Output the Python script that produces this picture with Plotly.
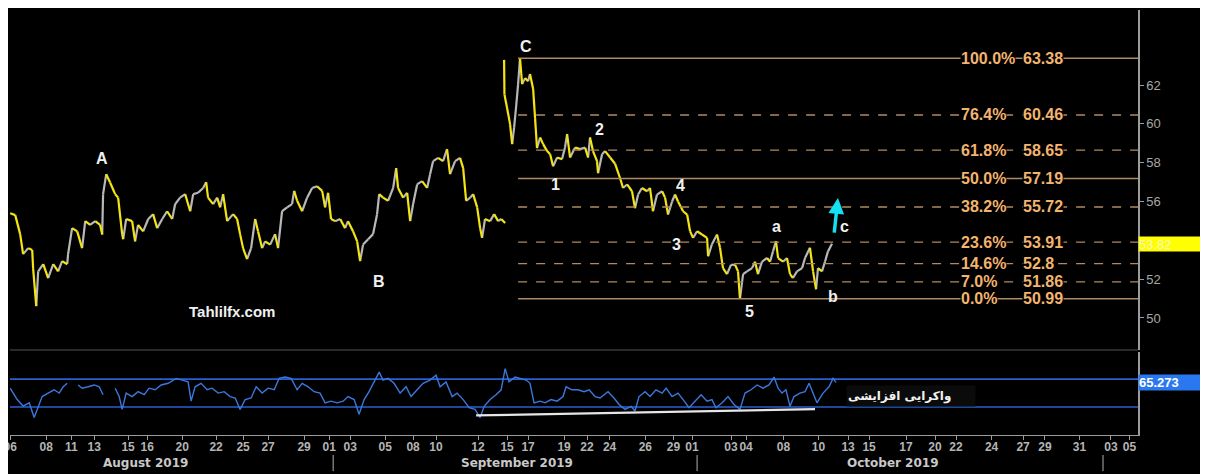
import plotly.graph_objects as go
from plotly.subplots import make_subplots

# ---------------- DATA ----------------
# x = trading sessions since 6 Aug 2019
seg1_x = [0.00, 0.29, 0.57, 0.74, 1.03, 1.26, 1.31, 1.49, 1.60, 1.89, 2.17, 2.46, 2.74, 2.97, 3.26, 3.31,
          3.54, 3.83, 4.11, 4.29, 4.57, 4.86, 5.14, 5.26, 5.31, 5.49, 5.71, 6.00, 6.17, 6.40, 6.46, 6.63,
          6.97, 7.14, 7.31, 7.60, 7.89, 8.17, 8.40, 8.69, 8.97, 9.26, 9.43, 9.71, 10.00, 10.29, 10.46, 10.74,
          11.03, 11.20, 11.31, 11.60, 11.83, 12.00, 12.17, 12.40, 12.74, 12.97, 13.14, 13.31, 13.54, 13.77,
          14.00, 14.17, 14.40, 14.57, 14.86, 15.14, 15.31, 15.54, 15.83, 16.11, 16.23, 16.40, 16.69, 16.97,
          17.26, 17.54, 17.83, 18.00, 18.17, 18.34, 18.57, 18.86, 19.14, 19.31, 19.60, 19.83, 20.00, 20.17,
          20.46, 20.74, 20.97, 21.09, 21.31, 21.60, 21.89, 22.06, 22.17, 22.46, 22.69, 22.86, 23.03, 23.26,
          23.54, 23.83, 24.00, 24.17, 24.46, 24.74, 24.97, 25.14, 25.43, 25.71, 25.89, 26.06, 26.29, 26.46,
          26.69, 26.86, 26.97, 27.14, 27.43, 27.66, 27.89, 28.06, 28.29]
seg1_y = [55.40, 55.30, 54.32, 53.29, 53.60, 53.50, 52.57, 50.61, 52.40, 52.77, 52.05, 52.77, 52.40, 52.93,
          52.77, 53.29, 54.63, 54.46, 53.60, 54.99, 54.80, 54.99, 54.80, 54.30, 56.38, 57.41, 56.98, 56.38,
          56.20, 54.32, 54.06, 55.10, 54.99, 53.95, 54.80, 54.46, 55.10, 55.35, 54.63, 55.10, 55.50, 55.10,
          55.87, 56.20, 56.38, 55.50, 56.38, 56.45, 56.70, 57.00, 56.20, 55.87, 56.20, 55.70, 56.38, 54.99,
          55.35, 55.10, 54.32, 53.60, 53.03, 53.60, 55.10, 54.46, 53.60, 53.95, 53.78, 54.32, 53.60, 55.50,
          55.70, 55.87, 56.55, 56.04, 55.50, 56.20, 56.70, 56.79, 56.55, 55.70, 56.45, 55.10, 54.99, 55.10,
          54.63, 54.99, 54.46, 53.95, 52.93, 53.78, 54.06, 54.32, 55.35, 56.38, 56.20, 56.04, 56.70, 57.72,
          56.70, 56.20, 56.45, 54.99, 55.87, 56.88, 57.05, 56.70, 57.41, 58.08, 58.25, 58.08, 58.70, 57.41,
          58.08, 58.25, 57.72, 56.04, 56.20, 56.38, 55.70, 54.63, 54.13, 55.10, 54.99, 55.35, 54.99, 55.10,
          54.89]
seg2_x = [28.23, 28.25, 28.40, 28.57, 28.69, 28.80, 28.91, 29.03, 29.14, 29.26, 29.43, 29.60, 29.71, 29.89,
          30.00, 30.11, 30.29, 30.46, 30.69, 30.86, 31.03, 31.26, 31.54, 31.71, 31.83, 32.00, 32.29, 32.57,
          32.86, 33.03, 33.14, 33.31, 33.54, 33.60, 33.83, 34.00, 34.29, 34.57, 34.86, 35.03, 35.26, 35.54,
          35.71, 35.89, 36.11, 36.40, 36.57, 36.74, 36.97, 37.26, 37.43, 37.60, 37.83, 38.00, 38.17, 38.46,
          38.69, 38.86, 39.03, 39.26, 39.54, 39.83, 39.89, 40.11, 40.40, 40.57, 40.74, 40.97, 41.20, 41.43,
          41.60, 41.71, 41.89, 42.11, 42.40, 42.57, 42.74, 42.97, 43.26, 43.43, 43.60, 43.77, 43.89, 44.17,
          44.40, 44.57, 44.74, 44.97, 45.26, 45.43, 45.71, 45.89, 46.06, 46.17, 46.40, 46.57, 46.74, 46.97]
seg2_y = [63.30, 61.52, 60.82, 59.99, 58.96, 59.80, 60.82, 62.05, 63.38, 62.05, 62.36, 62.20, 62.57, 61.80,
          60.30, 58.75, 59.30, 58.96, 58.60, 58.44, 57.82, 58.27, 58.18, 58.78, 59.47, 58.27, 58.78, 58.70,
          58.78, 58.27, 59.30, 58.60, 58.08, 57.46, 58.44, 58.60, 58.27, 57.95, 57.20, 56.70, 56.88, 56.53,
          55.66, 56.36, 56.70, 56.53, 56.70, 55.50, 56.36, 56.53, 56.20, 55.33, 56.00, 56.36, 56.00, 55.50,
          55.33, 54.47, 54.13, 54.47, 54.30, 54.13, 53.18, 53.80, 54.30, 53.62, 52.57, 52.26, 52.74, 52.74,
          52.40, 50.99, 52.26, 52.40, 52.57, 52.90, 52.26, 52.90, 53.09, 52.90, 53.43, 53.96, 53.09, 52.90,
          53.09, 52.26, 52.06, 52.40, 52.57, 53.09, 53.62, 52.40, 51.48, 52.57, 52.40, 52.90, 53.43, 53.82]

rsi_x = [0.00, 0.40, 0.74, 1.09, 1.37, 1.60, 1.83, 2.17, 2.51, 2.80, 3.03, 3.26, None,
         3.89, 4.11, 4.46, 4.80, 5.09, 5.31, None,
         6.00, 6.23, 6.40, 6.63, 6.97, 7.31, 7.66, 7.94, 8.29, 8.63, 9.03, 9.49, 9.83, 10.17, 10.34, 10.57,
         10.91, 11.26, 11.54, 11.89, 12.23, 12.57, 12.86, 13.14, 13.43, 13.77, 14.06, 14.40, 14.74, 15.09,
         15.37, 15.71, 16.06, 16.40, 16.69, 17.03, 17.37, 17.71, 18.00, 18.34, 18.69, 19.03, 19.31, 19.66,
         19.94, 20.23, 20.51, 20.86, 21.09, 21.31, 21.60, 21.94, 22.29, 22.63, 22.91, 23.26, 23.60, 24.00,
         24.34, 24.57, 24.91, 25.26, 25.54, 25.89, 26.23, 26.57, 26.86, 27.09, 27.43, 27.77, 28.06, 28.29,
         28.51, 28.86, 29.14, 29.49, 29.71, 29.94, 30.29, 30.57, 30.91, 31.26, 31.60, 31.77, 32.11, 32.46,
         32.80, 33.09, 33.43, 33.71, 34.17, 34.51, 34.80, 35.14, 35.49, 35.71, 35.94, 36.29, 36.57, 36.91,
         37.26, 37.49, 37.83, 38.17, 38.46, 38.80, 39.14, 39.49, 39.83, 40.11, 40.34, 40.69, 41.03, 41.37,
         41.71, 42.00, 42.34, 42.69, 43.03, 43.37, 43.66, 43.89, 44.11, 44.34, 44.57, 44.80, 45.14, 45.43,
         45.66, 45.89, 46.11, 46.46, 46.80, 47.03, 47.20]
rsi_y = [57, 40.7, 31.4, 36, 15, 31, 45, 50, 54.7, 50, 59, 64, None,
         61.6, 57, 59, 61.6, 59, 47.7, None,
         57, 45, 26.7, 50, 45, 52, 47.7, 57, 54.7, 61.6, 64, 71, 68.6, 66, 38.4, 59,
         64, 54.7, 57, 50, 52, 45, 43, 26.7, 40.7, 43, 59, 50, 57, 54.7,
         71, 73, 71, 54.7, 64, 59, 52, 50, 36, 38.4, 36, 38.4, 45, 40.7,
         19.8, 40.7, 52, 68.6, 80, 68.6, 71, 64, 50, 59, 45, 54.7, 64, 68.6,
         75.6, 59, 66, 45, 50, 40.7, 29, 26.7, 15, 31, 40.7, 47.7, 54.7, 85,
         66, 73, 71, 68.6, 64, 36, 38.4, 36, 40.7, 38.4, 45, 59, 54.7, 54.7,
         52, 54.7, 45, 43, 52, 43, 33.7, 26.7, 31, 24.4, 45, 52, 45, 54.7,
         50, 57, 45, 50, 40.7, 29, 38.4, 47.7, 38.4, 40.7, 29, 36, 45, 33.7,
         26.7, 50, 54.7, 61.6, 57, 61.6, 73, 57, 50, 54.7, 31, 45, 50, 52,
         64, 50, 36, 50, 59, 71, 65.273]
rsi_levels = [70, 30]
div_x = [26.63, 46.00]
div_y = [18, 27]

fib_pct = ["100.0%", "76.4%", "61.8%", "50.0%", "38.2%", "23.6%", "14.6%", "7.0%", "0.0%"]
fib_val = [63.38, 60.46, 58.65, 57.19, 55.72, 53.91, 52.8, 51.86, 50.99]
fib_solid = [True, False, False, True, False, False, False, False, True]
fib_start = 29.03

waves = ["A", "B", "C", "1", "2", "3", "4", "5", "a", "b", "c"]
wave_x = [5.26, 21.09, 29.49, 31.14, 33.71, 38.06, 38.29, 42.23, 43.77, 47.03, 47.71]
wave_y = [58.24, 51.90, 64.00, 56.90, 59.73, 53.80, 56.85, 50.35, 54.73, 51.12, 54.73]

arrow_from = (47.09, 54.32)
arrow_to = (47.31, 56.18)

last_price = 53.82
last_rsi = 65.273

tick_pos = [0.00, 2.06, 3.49, 4.80, 6.74, 7.83, 9.83, 11.77, 13.31, 14.74, 16.80, 18.23, 19.43, 21.43,
            23.03, 24.34, 26.74, 28.40, 29.60, 31.66, 32.97, 34.26, 36.30, 37.91, 38.97, 41.20, 42.06,
            44.20, 46.20, 47.89, 49.09, 51.20, 52.86, 54.06, 56.09, 57.89, 59.14, 61.11, 62.91, 63.97]
tick_text = ["06", "08", "11", "13", "15", "16", "20", "22", "25", "27", "29", "01", "03", "05",
             "08", "10", "12", "15", "17", "19", "22", "24", "26", "29", "01", "03", "04",
             "08", "10", "13", "15", "17", "20", "22", "24", "27", "29", "31", "03", "05"]
months = ["August 2019", "September 2019", "October 2019"]
month_pos = [7.71, 28.97, 50.46]
month_sep = [18.46, 39.26, 62.46]

X_RANGE = [-0.01, 64.46]
Y_RANGE = [48.35, 65.87]
Y2_RANGE = [-10, 108.6]

# ---------------- FIGURE ----------------
fig = make_subplots(rows=2, cols=1, shared_xaxes=True)

YEL = "#f4e414"
GRY = "#b8b8b8"


def split_dir(xs, ys):
    ux, uy, dx, dy = [], [], [], []
    for i in range(len(xs) - 1):
        if ys[i + 1] < ys[i]:
            dx += [xs[i], xs[i + 1], None]
            dy += [ys[i], ys[i + 1], None]
        else:
            ux += [xs[i], xs[i + 1], None]
            uy += [ys[i], ys[i + 1], None]
    return ux, uy, dx, dy


for sx, sy in [(seg1_x, seg1_y), (seg2_x, seg2_y)]:
    ux, uy, dx, dy = split_dir(sx, sy)
    fig.add_trace(go.Scatter(x=ux, y=uy, mode="lines", line=dict(color=GRY, width=2.2),
                             hoverinfo="skip"), row=1, col=1)
    fig.add_trace(go.Scatter(x=dx, y=dy, mode="lines", line=dict(color=YEL, width=2.2),
                             hoverinfo="skip"), row=1, col=1)

# Fibonacci levels
FIB_LINE = "#b08a62"
FIB_TXT = "#f2b46e"
for p, v, s in zip(fib_pct, fib_val, fib_solid):
    fig.add_trace(go.Scatter(x=[fib_start, X_RANGE[1]], y=[v, v], mode="lines",
                             line=dict(color=FIB_LINE, width=1.6 if s else 1.4,
                                       dash="solid" if s else "dash"),
                             hoverinfo="skip"), row=1, col=1)
    fig.add_annotation(x=54.29, y=v, xref="x", yref="y", text=f"<b>{p}</b>", showarrow=False,
                       xanchor="left", yanchor="middle", bgcolor="#000000", borderpad=0,
                       font=dict(family="Liberation Sans", size=16, color=FIB_TXT))
    fig.add_annotation(x=57.83, y=v, xref="x", yref="y", text=f"<b>{v:g}</b>", showarrow=False,
                       xanchor="left", yanchor="middle", bgcolor="#000000", borderpad=0,
                       font=dict(family="Liberation Sans", size=16, color=FIB_TXT))

# wave labels
for t, x, y in zip(waves, wave_x, wave_y):
    fig.add_annotation(x=x, y=y, xref="x", yref="y", text=f"<b>{t}</b>", showarrow=False,
                       font=dict(family="Liberation Sans", size=16, color="#f0f0f0"))

fig.add_annotation(x=12.69, y=50.35, xref="x", yref="y", text="<b>Tahlilfx.com</b>", showarrow=False,
                   font=dict(family="Liberation Sans", size=15, color="#f0f0f0"))

fig.add_annotation(x=arrow_to[0], y=arrow_to[1], ax=arrow_from[0], ay=arrow_from[1],
                   xref="x", yref="y", axref="x", ayref="y", text="", showarrow=True,
                   arrowhead=2, arrowsize=0.9, arrowwidth=3.5, arrowcolor="#14e0f4")

# RSI panel
for lv in rsi_levels:
    fig.add_trace(go.Scatter(x=list(X_RANGE), y=[lv, lv], mode="lines",
                             line=dict(color="#2b5fcf", width=1.6), hoverinfo="skip"), row=2, col=1)
fig.add_trace(go.Scatter(x=rsi_x, y=rsi_y, mode="lines", line=dict(color="#3b78de", width=1.4),
                         connectgaps=False, hoverinfo="skip"), row=2, col=1)
fig.add_trace(go.Scatter(x=div_x, y=div_y, mode="lines", line=dict(color="#e6e6e6", width=2.2),
                         hoverinfo="skip"), row=2, col=1)

fig.add_annotation(x=51.49, y=45.7, xref="x2", yref="y2", text="<b>واکرایی افزایشی</b>",
                   showarrow=False, bgcolor="#0b0b0b", width=126, height=18, align="left",
                   font=dict(family="DejaVu Sans", size=12, color="#f2f2f2"))

# right-side value boxes
fig.add_annotation(x=1.0, y=last_price, xref="paper", yref="y", text="53.82", showarrow=False,
                   xanchor="left", yanchor="middle", align="left", bgcolor="#ffff00", width=64,
                   height=14, borderpad=0,
                   font=dict(family="Liberation Sans", size=13, color="#f8f8c8"))
fig.add_annotation(x=1.0, y=last_rsi, xref="paper", yref="y2", text="<b>65.273</b>", showarrow=False,
                   xanchor="left", yanchor="middle", align="left", bgcolor="#2a78f0", width=62,
                   height=15, borderpad=0,
                   font=dict(family="Liberation Sans", size=13, color="#ffffff"))

# month labels and separators
for m, mx in zip(months, month_pos):
    fig.add_annotation(x=mx, y=-0.066, xref="x2", yref="paper", text=f"<b>{m}</b>", showarrow=False,
                       yanchor="middle", font=dict(family="DejaVu Sans", size=12, color="#c8c8c8"))
for sx in month_sep:
    fig.add_shape(type="line", x0=sx, x1=sx, y0=-0.047, y1=-0.085, xref="x2", yref="paper",
                  line=dict(color="#b0b0b0", width=1))

# panel separator
fig.add_shape(type="line", x0=0, x1=1, y0=0.2, y1=0.2, xref="paper", yref="paper",
              line=dict(color="#5a5050", width=1.2))

AX = "#9c9c9c"
fig.update_layout(
    width=1200, height=466,
    margin=dict(l=2, r=70, t=2, b=39, autoexpand=False),
    paper_bgcolor="#000000", plot_bgcolor="#000000",
    showlegend=False,
    xaxis=dict(domain=[0, 1], range=X_RANGE, showgrid=False, zeroline=False, showticklabels=False,
               ticks="", automargin=False),
    xaxis2=dict(domain=[0, 1], range=X_RANGE, showgrid=False, zeroline=False, automargin=False,
                tickmode="array", tickvals=tick_pos, ticktext=tick_text, ticks="outside",
                ticklen=4, tickcolor=AX, showline=True, linecolor=AX, linewidth=1, tickangle=0,
                ticklabelstandoff=-3, ticklabeloverflow="allow",
                tickfont=dict(family="Liberation Sans", size=12, color="#b4b4b4", weight="bold")),
    yaxis=dict(domain=[0.2, 1], range=Y_RANGE, side="right", showgrid=False, zeroline=False,
               automargin=False,
               tickmode="array", tickvals=[50, 52, 56, 58, 60, 62], ticks="outside", ticklen=4,
               tickcolor=AX, showline=True, linecolor=AX, linewidth=1.5,
               tickfont=dict(family="Liberation Sans", size=13, color="#a8a8a8")),
    yaxis2=dict(domain=[0, 0.195], range=Y2_RANGE, side="right", showgrid=False, zeroline=False,
                automargin=False,
                showticklabels=False, ticks="", showline=True, linecolor=AX, linewidth=1.5),
)

fig.write_html("out.html")
